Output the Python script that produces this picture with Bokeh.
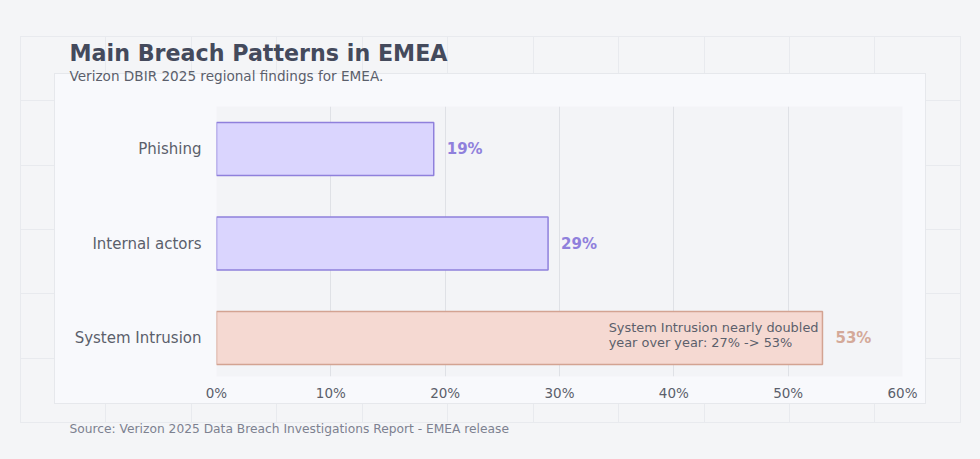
from bokeh.plotting import figure
from bokeh.models import (ColumnDataSource, Label, FixedTicker, Range1d,
                          LabelSet, Title)
from bokeh.embed import file_html
from bokeh.resources import INLINE
from bokeh.core.properties import value

# ---------------- data ----------------
categories = ["System Intrusion", "Internal actors", "Phishing"]
values = [53, 29, 19]
value_labels = ["53%", "29%", "19%"]
fill_colors = ["#f5d9d2", "#dad5fe", "#dad5fe"]
line_colors = ["#d3a392", "#8f80dc", "#8f80dc"]
label_colors = ["#d4a999", "#8f80dc", "#8f80dc"]
x_ticks = [0, 10, 20, 30, 40, 50, 60]
x_tick_labels = ["0%", "10%", "20%", "30%", "40%", "50%", "60%"]

title_text = "Main Breach Patterns in EMEA"
subtitle_text = "Verizon DBIR 2025 regional findings for EMEA."
source_text = "Source: Verizon 2025 Data Breach Investigations Report - EMEA release"
note_text = "System Intrusion nearly doubled\nyear over year: 27% -> 53%"
note_x = 34.3

FONT = "DejaVu Sans"
PAGE_BG = "#f4f5f7"
PANEL_BG = "#f8f9fc"
PANEL_LINE = "#e6e8ec"
FRAME_BG = "#f3f4f7"
DECO_LINE = "#e8eaee"

W, H = 980, 459
FL, FR, FT, FB = 216, 78, 106, 83

# decorative page background (CSS): panel on top of a faint grid
deco_styles = {
    "background-color": PAGE_BG,
    "background-image": ", ".join([
        f"linear-gradient({PANEL_BG}, {PANEL_BG})",
        f"linear-gradient({PANEL_LINE}, {PANEL_LINE})",
        f"repeating-linear-gradient(to right, {DECO_LINE} 0px, {DECO_LINE} 1px, transparent 1px, transparent 85.45px)",
        f"repeating-linear-gradient(to bottom, {DECO_LINE} 0px, {DECO_LINE} 1px, transparent 1px, transparent 64.33px)",
    ]),
    "background-position": "55px 74px, 54px 73px, 20px 36px, 20px 36px",
    "background-size": "870px 329px, 872px 331px, 941px 387px, 941px 387px",
    "background-repeat": "no-repeat",
}

ypos = list(range(len(categories)))
src = ColumnDataSource(dict(y=ypos, v=values, lab=value_labels,
                            fill=fill_colors, line=line_colors, lc=label_colors))

p = figure(width=W, height=H, output_backend="svg", toolbar_location=None,
           x_range=Range1d(0, 60), y_range=Range1d(-0.407, 2.45),
           min_border_left=FL, min_border_right=FR, min_border_top=FT,
           min_border_bottom=FB, title=None, styles=deco_styles)
p.background_fill_color = FRAME_BG
p.border_fill_alpha = 0
p.outline_line_color = None

# ---------------- bars ----------------
p.hbar(y="y", right="v", left=0, height=0.56, source=src,
       fill_color="fill", line_color="line", line_width=1.5)

p.add_layout(LabelSet(x="v", y="y", text="lab", source=src, x_offset=13,
                      text_color="lc", text_font=value(FONT),
                      text_font_size=value("15px"), text_font_style="bold",
                      text_baseline="middle"))

p.add_layout(Label(x=note_x, y=0, y_offset=3, text=note_text, text_font=FONT,
                   text_font_size="12.9px", text_color="#5b5f6b",
                   text_baseline="middle", text_align="left",
                   text_line_height=1.0))

# ---------------- axes ----------------
p.xaxis.ticker = FixedTicker(ticks=x_ticks)
p.xaxis.major_label_overrides = {t: l for t, l in zip(x_ticks, x_tick_labels)}
p.xaxis.axis_line_color = None
p.xaxis.major_tick_line_color = None
p.xaxis.minor_tick_line_color = None
p.xaxis.major_tick_out = 0
p.xaxis.major_tick_in = 0
p.xaxis.major_label_text_font = FONT
p.xaxis.major_label_text_font_size = "13.5px"
p.xaxis.major_label_text_color = "#5b5f6b"
p.xaxis.major_label_standoff = 8

p.yaxis.ticker = FixedTicker(ticks=ypos)
p.yaxis.major_label_overrides = {i: c for i, c in zip(ypos, categories)}
p.yaxis.axis_line_color = None
p.yaxis.major_tick_line_color = None
p.yaxis.minor_tick_line_color = None
p.yaxis.major_tick_out = 0
p.yaxis.major_tick_in = 0
p.yaxis.major_label_text_font = FONT
p.yaxis.major_label_text_font_size = "15px"
p.yaxis.major_label_text_color = "#5b5f6b"
p.yaxis.major_label_standoff = 15

p.xgrid.grid_line_color = "#dfe1e6"
p.xgrid.grid_line_width = 1
p.ygrid.grid_line_color = None

# ---------------- titles ----------------
# a blank, tiny title used only as vertical spacing between frame and subtitle
p.add_layout(Title(text=" ", text_font_size="1px", standoff=20), "above")
# "above" items stack outward from the frame in the order they are added
p.add_layout(Title(text=subtitle_text, align="left", offset=69 - FL,
                   text_font=FONT, text_font_size="13.6px",
                   text_font_style="normal", text_color="#5b5f6b",
                   standoff=0), "above")
p.add_layout(Title(text=title_text, align="left", offset=69 - FL,
                   text_font=FONT, text_font_size="22.2px",
                   text_font_style="bold", text_color="#444a5c",
                   standoff=0), "above")
p.add_layout(Title(text=source_text, align="left", offset=69 - FL,
                   text_font=FONT, text_font_size="12.25px",
                   text_font_style="normal", text_color="#7d8190",
                   standoff=33), "below")

open("out.html", "w").write(file_html(p, INLINE))
